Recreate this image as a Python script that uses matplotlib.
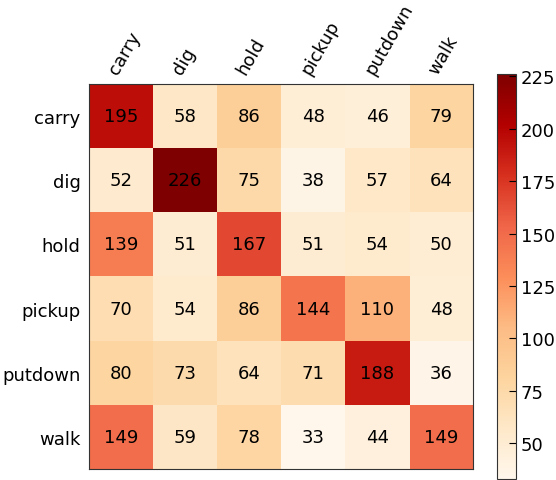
import numpy as np
import matplotlib
matplotlib.use("Agg")
from matplotlib import pyplot as plt

labels = ["carry", "dig", "hold", "pickup", "putdown", "walk"]
carry = [195, 58, 86, 48, 46, 79]
dig = [52, 226, 75, 38, 57, 64]
hold = [139, 51, 167, 51, 54, 50]
pickup = [70, 54, 86, 144, 110, 48]
putdown = [80, 73, 64, 71, 188, 36]
walk = [149, 59, 78, 33, 44, 149]

cm = np.array([carry, dig, hold, pickup, putdown, walk])

fig = plt.figure(figsize=(5.56, 4.81), dpi=100)
ax = fig.add_axes([0.160, 0.023, 0.691, 0.800])
cax = fig.add_axes([0.894, 0.002, 0.034, 0.842])

im = ax.imshow(cm, cmap="OrRd", interpolation="nearest", aspect="auto")
for i in range(cm.shape[0]):
    for j in range(cm.shape[1]):
        ax.text(j, i, str(cm[i, j]), ha="center", va="center", fontsize=13, color="black")

ax.xaxis.tick_top()
ax.set_xticks(range(len(labels)))
ax.set_xticklabels(labels, rotation=60, ha="left", rotation_mode="anchor", fontsize=13)
ax.set_yticks(range(len(labels)))
ax.set_yticklabels(labels, fontsize=13)
ax.tick_params(length=0, pad=6)
ax.tick_params(axis="x", pad=5)
for s in ax.spines.values():
    s.set_color("#333333")

cb = fig.colorbar(im, cax=cax, ticks=[50, 75, 100, 125, 150, 175, 200, 225])
cb.ax.tick_params(labelsize=13, direction="in", length=5)
cb.outline.set_edgecolor("#333333")

fig.savefig("out.png", dpi=100)
